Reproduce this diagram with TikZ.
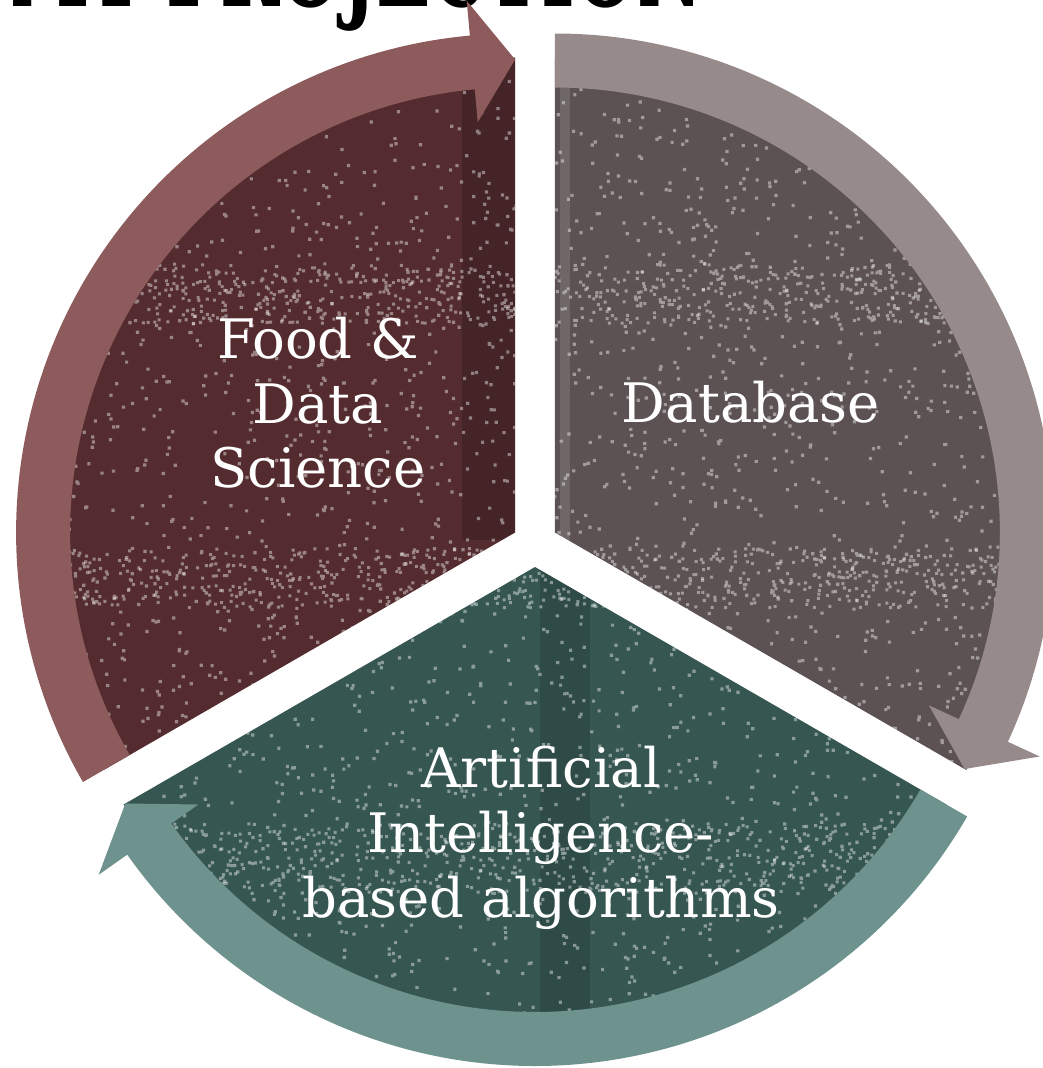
\documentclass[tikz,border=0pt]{standalone}
\usepackage{fontspec}
\setmainfont{DejaVu Serif}
\newfontfamily\titlefont{DejaVu Serif}
\usetikzlibrary{calc}

\definecolor{foodsec}{RGB}{84,44,47}
\definecolor{foodarrow}{RGB}{142,91,92}
\definecolor{dbsec}{RGB}{92,82,83}
\definecolor{dbarrow}{RGB}{151,138,139}
\definecolor{aisec}{RGB}{54,86,82}
\definecolor{aiarrow}{RGB}{110,146,141}

% curved block arrow on the rim of a segment: apex, from angle, to angle, colour
\newcommand{\segarrow}[4]{%
  \fill[#4, shift={(#1)}] (#2:4.99) arc[start angle=#2, end angle=#3+5.2, radius=4.99]
    -- (#3+5.2:5.34) -- (#3:4.73) -- (#3+5.2:4.12) -- (#3+5.2:4.45)
    arc[start angle=#3+5.2, end angle=#2, radius=4.45] -- cycle;}

\begin{document}
\begin{tikzpicture}[
    seglabel/.style={text=white, align=center, font=\fontsize{15.5}{18.4}\selectfont},
    speck/.style={white, opacity=0.42}]
    \useasboundingbox (0,0) rectangle (10.43,-10.68);
    \pgfmathsetseed{11}

    % exploded centre points of the three segments
    \coordinate (C) at (5.35,-5.44);
    \coordinate (apexL) at ($(C)+(150:0.23)$);
    \coordinate (apexR) at ($(C)+(30:0.23)$);
    \coordinate (apexB) at ($(C)+(270:0.23)$);

    % title, only its lower edge shows
    \node[anchor=base west, inner sep=0, font=\titlefont\bfseries\fontsize{34}{34}\selectfont] (title)
        at (0.10,-0.06) {\scalebox{0.6}[1]{MY PROJECTION}};

    % segments
    \fill[foodsec] (apexL) -- ++(90:4.75) arc[start angle=90, end angle=210, radius=4.75] -- cycle;
    \fill[dbsec] (apexR) -- ++(-30:4.75) arc[start angle=-30, end angle=90, radius=4.75] -- cycle;
    \fill[aisec] (apexB) -- ++(210:4.75) arc[start angle=210, end angle=330, radius=4.75] -- cycle;

    % worn texture, clipped to all three segments at once
    \begin{scope}
        \clip (apexL) -- ++(90:4.75) arc[start angle=90, end angle=210, radius=4.75] -- cycle
              (apexR) -- ++(-30:4.75) arc[start angle=-30, end angle=90, radius=4.75] -- cycle
              (apexB) -- ++(210:4.75) arc[start angle=210, end angle=330, radius=4.75] -- cycle;
        \fill[black, opacity=0.18] (4.62,0) rectangle (5.2,-5.4);
        \fill[white, opacity=0.12] (5.6,0) rectangle (5.7,-5.4);
        \fill[black, opacity=0.12] (5.4,-5.7) rectangle (5.9,-11);
        \fill[speck] \foreach \i in {1,...,3000} {({5.35+4.9*rand},{-5.44+4.9*rand}) rectangle ++(0.032,0.032)};
        \fill[speck] \foreach \i in {1,...,800} {({5.35+4.9*rand},{-2.95+0.3*rand}) rectangle ++(0.03,0.03)};
        \fill[speck] \foreach \i in {1,...,800} {({5.35+4.9*rand},{-5.8+0.3*rand}) rectangle ++(0.03,0.03)};
        \fill[speck] \foreach \i in {1,...,800} {({5.35+4.9*rand},{-8.6+0.35*rand}) rectangle ++(0.03,0.03)};
    \end{scope}

    % arrows round the rim
    \segarrow{apexL}{210}{90}{foodarrow}
    \segarrow{apexR}{90}{-30}{dbarrow}
    \segarrow{apexB}{-30}{-150}{aiarrow}

    % labels
    \node[seglabel] (food) at (3.18,-4.03) {Food \&\\Data\\Science};
    \node[seglabel] (db) at (7.51,-4.02) {Database};
    \node[seglabel] (ai) at (5.41,-8.38) {Artificial\\Intelligence-\\based algorithms};
\end{tikzpicture}
\end{document}
